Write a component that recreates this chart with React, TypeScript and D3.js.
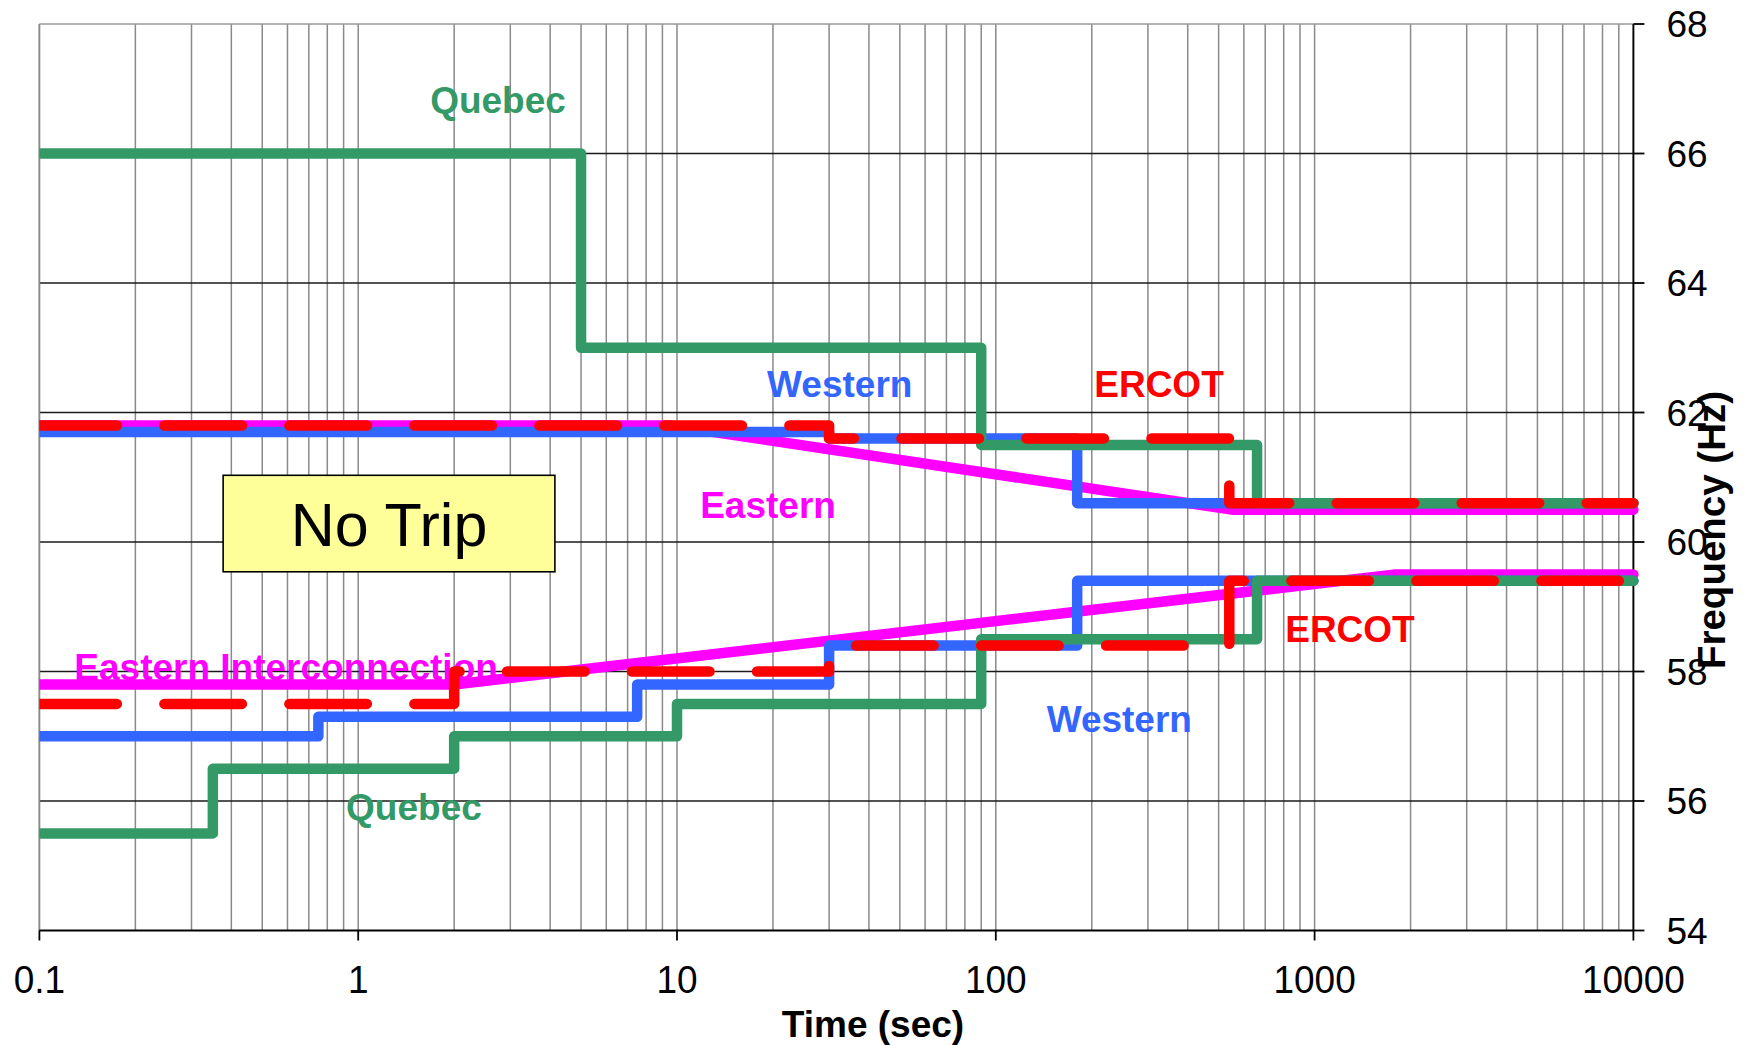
import React from 'react';
import * as d3 from 'd3';

// ---------- data (time in s, frequency in Hz) ----------
const quebecHigh: [number, number][] = [[0.1, 66], [5, 66], [5, 63], [90, 63], [90, 61.5], [660, 61.5], [660, 60.6], [10000, 60.6]];
const quebecLow: [number, number][] = [[0.1, 55.5], [0.35, 55.5], [0.35, 56.5], [2, 56.5], [2, 57], [10, 57], [10, 57.5], [90, 57.5], [90, 58.5], [660, 58.5], [660, 59.4], [10000, 59.4]];
const westernHigh: [number, number][] = [[0.1, 61.7], [30, 61.7], [30, 61.6], [180, 61.6], [180, 60.6], [10000, 60.6]];
const westernLow: [number, number][] = [[0.1, 57], [0.75, 57], [0.75, 57.3], [7.5, 57.3], [7.5, 57.8], [30, 57.8], [30, 58.4], [180, 58.4], [180, 59.4], [10000, 59.4]];
const ercotHigh: [number, number][] = [[0.1, 61.8], [30, 61.8], [30, 61.6], [540, 61.6], [540, 60.6], [10000, 60.6]];
const ercotLow: [number, number][] = [[0.1, 57.5], [2, 57.5], [2, 58], [30, 58], [30, 58.4], [540, 58.4], [540, 59.4], [10000, 59.4]];
const easternHigh: [number, number][] = [[0.1, 61.8], [9.5, 61.8], [550, 60.5], [10000, 60.5]];
const easternLow: [number, number][] = [[0.1, 57.8], [2, 57.8], [1800, 59.5], [10000, 59.5]];

const xTicks = [0.1, 1, 10, 100, 1000, 10000];
const xTickLabels = ['0.1', '1', '10', '100', '1000', '10000'];
const yTicks = [54, 56, 58, 60, 62, 64, 66, 68];
const yTickLabels = ['54', '56', '58', '60', '62', '64', '66', '68'];

// series label texts and their anchors (data units: time, frequency)
const labelTexts = ['Quebec', 'Western', 'ERCOT', 'Eastern', 'Eastern Interconnection', 'ERCOT', 'Western', 'Quebec'];
const labelTimes = [2.745, 32.4, 325, 19.3, 0.594, 1291, 244, 1.496];
const labelFreqs = [66.63, 62.24, 62.24, 60.37, 57.87, 58.46, 57.07, 55.71];
const labelSeries = ['quebec', 'western', 'ercot', 'eastern', 'eastern', 'ercot', 'western', 'quebec'];

// "No Trip" annotation box (data units)
const noTripTime = [0.377, 4.14];
const noTripFreq = [59.54, 61.03];

const COLORS: Record<string, string> = {
  quebec: '#339966',
  western: '#3366FF',
  ercot: '#FF0000',
  eastern: '#FF00FF',
};

const FONT = '"Liberation Sans", Arial, Helvetica, sans-serif';

export default function App() {
  const W = 1744, H = 1045;
  const L = 39.4, R = 1633.4, T = 24, B = 930.5;
  const x = d3.scaleLog().domain([0.1, 10000]).range([L, R]);
  const y = d3.scaleLinear().domain([54, 68]).range([B, T]);
  const line = d3.line<[number, number]>().x(d => x(d[0])).y(d => y(d[1]));

  const minor: number[] = [];
  for (let e = -1; e <= 3; e++) for (let m = 1; m <= 9; m++) minor.push(m * Math.pow(10, e));
  minor.push(10000);

  const series = [
    { pts: easternHigh, key: 'eastern', dash: false },
    { pts: easternLow, key: 'eastern', dash: false },
    { pts: westernHigh, key: 'western', dash: false },
    { pts: westernLow, key: 'western', dash: false },
    { pts: quebecHigh, key: 'quebec', dash: false },
    { pts: quebecLow, key: 'quebec', dash: false },
    { pts: ercotHigh, key: 'ercot', dash: true },
    { pts: ercotLow, key: 'ercot', dash: true },
  ];
  const SW = 10.5;

  const bx0 = x(noTripTime[0]), bx1 = x(noTripTime[1]);
  const by0 = y(noTripFreq[1]), by1 = y(noTripFreq[0]);

  return (
    <svg width={W} height={H} style={{ position: 'absolute', left: 0, top: 0, background: '#fff' }} fontFamily={FONT}>
      <defs>
        <clipPath id="plotclip">
          <rect x={L} y={0} width={R - L + 20} height={H} />
        </clipPath>
      </defs>
      <rect x={0} y={0} width={W} height={H} fill="#fff" />

      {/* vertical grid */}
      {minor.map((v, i) => (
        <line key={'vg' + i} x1={x(v)} x2={x(v)} y1={T} y2={B} stroke="#8a8a8a" strokeWidth={1.5} />
      ))}
      {/* horizontal grid */}
      {yTicks.filter(v => v > 54 && v < 68).map((v, i) => (
        <line key={'hg' + i} x1={L} x2={R} y1={y(v)} y2={y(v)} stroke="#1a1a1a" strokeWidth={1.6} />
      ))}
      {/* plot border top/left */}
      <line x1={L} x2={R} y1={T} y2={T} stroke="#9a9a9a" strokeWidth={1.6} />
      <line x1={L} x2={L} y1={T} y2={B} stroke="#8a8a8a" strokeWidth={1.6} />

      {/* axes */}
      <line x1={L} x2={R} y1={B} y2={B} stroke="#000" strokeWidth={1.8} />
      <line x1={R} x2={R} y1={T} y2={B} stroke="#000" strokeWidth={1.8} />
      {xTicks.map((v, i) => (
        <line key={'xt' + i} x1={x(v)} x2={x(v)} y1={B} y2={B + 10} stroke="#000" strokeWidth={1.8} />
      ))}
      {yTicks.map((v, i) => (
        <line key={'yt' + i} x1={R} x2={R + 11} y1={y(v)} y2={y(v)} stroke="#000" strokeWidth={1.8} />
      ))}
      {xTicks.map((v, i) => (
        <text key={'xl' + i} x={x(v)} y={B + 63} textAnchor="middle" fontSize={37} fill="#000"
          transform={`translate(0,${B + 63}) scale(1,1.06) translate(0,${-(B + 63)})`}>{xTickLabels[i]}</text>
      ))}
      {yTicks.map((v, i) => (
        <text key={'yl' + i} x={R + 33} y={y(v)} dy="0.36em" fontSize={37} fill="#000">{yTickLabels[i]}</text>
      ))}

      {/* No Trip box */}
      <rect x={bx0} y={by0} width={bx1 - bx0} height={by1 - by0} fill="#FFFF99" stroke="#000" strokeWidth={1.6} />
      <text x={(bx0 + bx1) / 2} y={(by0 + by1) / 2} dy="0.36em" textAnchor="middle" fontSize={61} fill="#000">No Trip</text>

      {/* series labels */}
      {labelTexts.map((t, i) => (
        <text key={'lab' + i} x={x(labelTimes[i])} y={y(labelFreqs[i])} textAnchor="middle" fontSize={37} fontWeight="bold" fill={COLORS[labelSeries[i]]}>{t}</text>
      ))}

      {/* series */}
      <g clipPath="url(#plotclip)">
        {series.map((s, i) => (
          <path key={'s' + i} d={line(s.pts) || ''} fill="none" stroke={COLORS[s.key]} strokeWidth={SW}
            strokeLinejoin="round" strokeLinecap="round"
            strokeDasharray={s.dash ? '77.5 47.5' : undefined} />
        ))}
      </g>

      {/* axis titles */}
      <text x={873} y={1037} textAnchor="middle" fontSize={37} fontWeight="bold" fill="#000">Time (sec)</text>
      <text transform="translate(1724.5,530) rotate(-90)" textAnchor="middle" fontSize={38.5} fontWeight="bold" fill="#000">Frequency (Hz)</text>
    </svg>
  );
}
